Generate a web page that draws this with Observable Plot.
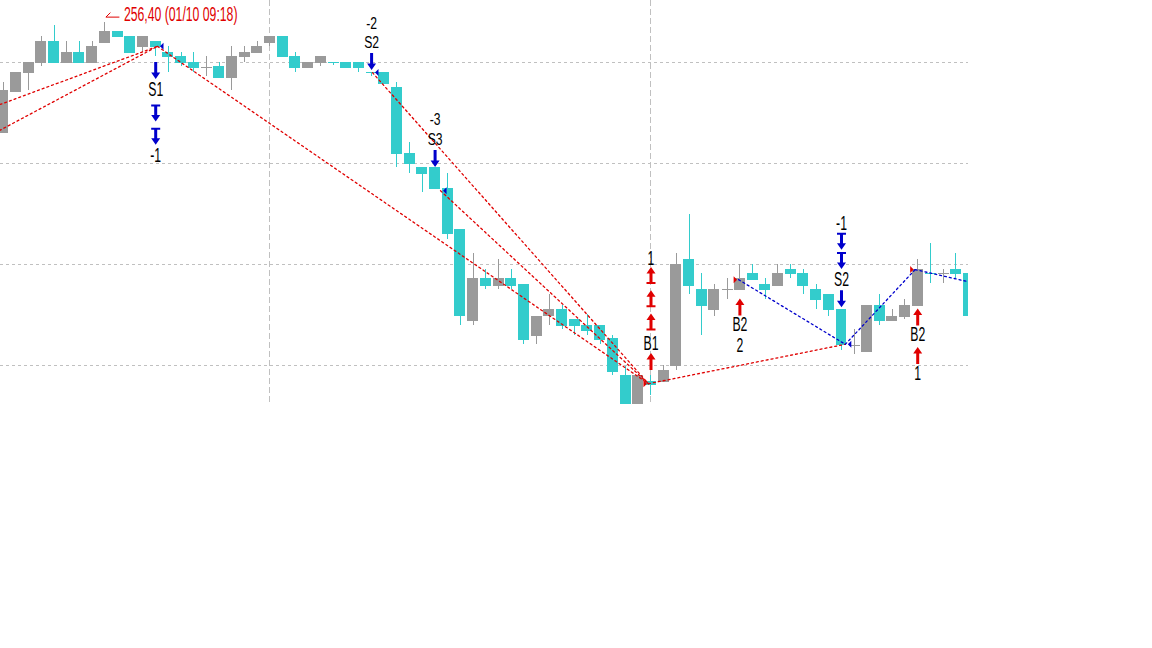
<!DOCTYPE html>
<html><head><meta charset="utf-8">
<script src="https://cdn.jsdelivr.net/npm/d3@7"></script>
<script src="https://cdn.jsdelivr.net/npm/@observablehq/plot@0.6"></script>
<style>html,body{margin:0;padding:0;background:#fff;} #chart svg{display:block;}</style>
</head><body><div id="chart"></div>
<script>
// ---- candle data (index 0..76) ----
const opens = [255.30,255.70,255.89,255.99,256.21,255.99,256.10,255.99,256.19,256.31,256.26,256.15,256.21,256.10,256.06,256.00,255.95,255.96,255.84,256.05,256.09,256.19,256.26,256.06,255.94,255.99,256.00,256.00,256.00,255.90,255.90,255.75,255.10,254.96,254.96,254.75,254.35,253.44,253.86,253.78,253.86,253.80,253.29,253.49,253.55,253.46,253.40,253.40,253.27,252.90,252.58,252.84,252.83,252.99,254.05,253.75,253.54,253.75,253.74,253.91,253.80,253.78,253.95,253.91,253.75,253.70,253.55,253.20,253.13,253.59,253.44,253.48,253.58,253.91,253.91,253.95,253.91];
const highs = [255.80,255.90,256.00,256.26,256.37,256.21,256.21,256.21,256.40,256.31,256.26,256.26,256.21,256.16,256.10,256.10,256.06,256.00,256.16,256.16,256.21,256.26,256.26,256.10,256.00,256.06,256.00,256.00,256.00,255.90,255.90,255.80,255.21,254.96,254.96,254.90,254.35,254.11,253.95,254.05,253.95,253.80,253.49,253.70,253.59,253.46,253.51,253.40,253.30,252.99,252.90,252.90,253.00,254.11,254.50,253.91,253.80,253.86,254.00,254.00,253.86,254.00,254.00,253.95,253.80,253.70,253.55,253.36,253.59,253.70,253.55,253.65,254.05,254.21,253.95,254.11,253.91];
const lows = [255.30,255.70,255.72,255.96,255.99,255.99,255.99,255.99,256.19,256.25,256.09,256.10,256.06,255.90,255.96,255.90,255.86,255.84,255.72,256.00,256.09,256.16,256.05,255.90,255.94,255.96,255.97,255.94,255.90,255.86,255.78,254.96,254.90,254.71,254.74,254.25,253.40,253.40,253.75,253.75,253.75,253.21,253.21,253.40,253.36,253.30,253.30,253.21,252.90,252.56,252.56,252.70,252.83,252.95,253.70,253.30,253.49,253.65,253.74,253.84,253.65,253.78,253.86,253.70,253.55,253.49,253.15,253.11,253.13,253.40,253.44,253.46,253.58,253.81,253.81,253.86,253.48];
const closes = [255.72,255.90,256.00,256.21,255.99,256.10,255.99,256.16,256.31,256.25,256.09,256.26,256.15,256.05,255.99,255.94,255.95,255.84,256.06,256.10,256.16,256.26,256.05,255.94,256.00,256.06,256.00,255.94,255.94,255.90,255.78,255.09,254.99,254.89,254.74,254.30,253.49,253.86,253.78,253.86,253.78,253.25,253.49,253.55,253.39,253.39,253.34,253.25,252.93,252.58,252.90,252.80,252.95,254.00,253.78,253.58,253.75,253.75,253.86,253.84,253.74,253.91,253.90,253.78,253.64,253.54,253.20,253.20,253.59,253.44,253.49,253.59,253.95,253.91,253.91,253.90,253.49];

// grid levels / vertical separators (candle index)
const priceGrid = [253, 254, 255, 256];
const timeGrid = [21, 51];

// peak annotation
const peakIndex = 8;
const peakTime = "01/10 09:18";

// zigzag pivots [index, price]
const pivS1 = [12.14, 256.16], pivS2 = [29.07, 255.90], pivS3 = [34.43, 254.73];
const pivB1 = [50.8, 252.82], pivB2 = [57.9, 253.85], pivS2b = [66.3, 253.21], pivB2b = [71.8, 253.95];
const redSegments = [
  [[-1, 255.55], pivS1],
  [[-1, 255.28], pivS1],
  [pivS1, pivB1],
  [pivS2, pivB1],
  [pivS3, pivB1],
  [pivB1, pivS2b]
];
const blueSegments = [
  [pivB2, pivS2b],
  [pivS2b, pivB2b],
  [pivB2b, [77, 253.80]]
];
const sellPivots = [pivS1, pivS2, pivS3, pivS2b];
const buyPivots = [pivB1, pivB2, pivB2b];

// signal arrows and labels
const sellArrows = [
  {i: 12, p: 255.92, bar: false}, {i: 12, p: 255.50, bar: true}, {i: 12, p: 255.27, bar: true},
  {i: 29, p: 256.01, bar: false},
  {i: 34, p: 255.05, bar: false},
  {i: 66, p: 254.23, bar: true}, {i: 66, p: 254.04, bar: true}, {i: 66, p: 253.66, bar: false}
];
const buyArrows = [
  {i: 51, p: 253.89, bar: true}, {i: 51, p: 253.66, bar: true}, {i: 51, p: 253.43, bar: true}, {i: 51, p: 253.04, bar: false},
  {i: 58, p: 253.58, bar: false},
  {i: 72, p: 253.48, bar: false}, {i: 72, p: 253.10, bar: false}
];
const signalLabels = [
  {i: 12, p: 255.73, t: "S1"}, {i: 12, p: 255.08, t: "-1"},
  {i: 51, p: 254.06, t: "1"}, {i: 51, p: 253.22, t: "B1"},
  {i: 58, p: 253.40, t: "B2"}, {i: 58, p: 253.20, t: "2"},
  {i: 66, p: 254.40, t: "-1"}, {i: 66, p: 253.85, t: "S2"},
  {i: 72, p: 253.30, t: "B2"}, {i: 72, p: 252.92, t: "1"}
];
// tightly stacked labels (count above signal name)
const stackedLabels = [
  {i: 29, p: 256.39, t: "-2"}, {i: 29, p: 256.20, t: "S2"},
  {i: 34, p: 255.44, t: "-3"}, {i: 34, p: 255.24, t: "S3"}
];

// ---- derived table ----
const candles = opens.map((o, i) => {
  const c = closes[i];
  const up = c > o ? true : c < o ? false : (i === 0 || c >= closes[i - 1]);
  return {i, open: o, high: highs[i], low: lows[i], close: c, up, doji: o === c};
});

const GRAY = "#9a9a9a", CYAN = "#33cccc", RED = "#e00000", BLUE = "#0000cc";
const HW = 0.433; // half body width in candle units

// custom symbols
function arrowPath(c, dir, bar) {
  const s = dir; // 1 = down, -1 = up
  c.moveTo(-1.5, -8.5 * s); c.lineTo(1.5, -8.5 * s); c.lineTo(1.5, 2 * s); c.lineTo(4.5, 2 * s);
  c.lineTo(0, 8.5 * s); c.lineTo(-4.5, 2 * s); c.lineTo(-1.5, 2 * s); c.closePath();
  if (bar) {
    c.moveTo(-4.5, -8.5 * s); c.lineTo(4.5, -8.5 * s); c.lineTo(4.5, -6.5 * s); c.lineTo(-4.5, -6.5 * s); c.closePath();
  }
}
const symDown = {draw(c) { arrowPath(c, 1, false); }};
const symDownBar = {draw(c) { arrowPath(c, 1, true); }};
const symUp = {draw(c) { arrowPath(c, -1, false); }};
const symUpBar = {draw(c) { arrowPath(c, -1, true); }};
const symLeftFlag = {draw(c) { c.moveTo(2.5, 0); c.lineTo(6, -3.5); c.lineTo(6, 3.5); c.closePath(); }};
const symRightFlag = {draw(c) { c.moveTo(-1.5, 0); c.lineTo(-5, -3.5); c.lineTo(-5, 3.5); c.closePath(); }};

const segRows = (segs, color) => segs.flatMap((s, k) => s.map(([i, p]) => ({i, p, k: color + k})));

const FONT = "Liberation Sans, Arial, sans-serif";

const chart = Plot.plot({
  width: 1152, height: 648,
  marginLeft: 0, marginTop: 0, marginRight: 184, marginBottom: 244,
  style: {background: "#fff"},
  x: {domain: [-0.22, 76.0], axis: null},
  y: {domain: [252.614, 256.614], axis: null},
  marks: [
    Plot.ruleY(priceGrid, {stroke: "#c0c0c0", strokeDasharray: "3,3", shapeRendering: "crispEdges"}),
    Plot.ruleX(timeGrid, {stroke: "#c0c0c0", strokeDasharray: "6,3", shapeRendering: "crispEdges"}),
    // wicks
    Plot.ruleX(candles, {filter: d => d.up, x: "i", y1: "low", y2: "high", stroke: GRAY, shapeRendering: "crispEdges", clip: true}),
    Plot.ruleX(candles, {filter: d => !d.up, x: "i", y1: "low", y2: "high", stroke: CYAN, shapeRendering: "crispEdges", clip: true}),
    // bodies
    Plot.rect(candles, {filter: d => d.up && !d.doji, x1: d => d.i - HW, x2: d => d.i + HW, y1: "open", y2: "close", fill: GRAY, shapeRendering: "crispEdges", clip: true}),
    Plot.rect(candles, {filter: d => !d.up && !d.doji, x1: d => d.i - HW, x2: d => d.i + HW, y1: "open", y2: "close", fill: CYAN, shapeRendering: "crispEdges", clip: true}),
    Plot.link(candles, {filter: d => d.doji, x1: d => d.i - HW, x2: d => d.i + HW, y1: "open", y2: "open", stroke: d => d.up ? GRAY : CYAN, shapeRendering: "crispEdges", clip: true}),
    // zigzag lines
    Plot.line(segRows(redSegments, "r"), {x: "i", y: "p", z: "k", stroke: RED, strokeWidth: 1.3, strokeDasharray: "2,3", clip: true}),
    Plot.line(segRows(blueSegments, "b"), {x: "i", y: "p", z: "k", stroke: BLUE, strokeWidth: 1.3, strokeDasharray: "2,3", clip: true}),
    Plot.dot(sellPivots, {x: d => d[0], y: d => d[1], symbol: symLeftFlag, fill: BLUE, stroke: "none"}),
    Plot.dot(buyPivots, {x: d => d[0], y: d => d[1], symbol: symRightFlag, fill: RED, stroke: "none"}),
    // arrows
    Plot.dot(sellArrows, {filter: d => !d.bar, x: "i", y: "p", symbol: symDown, fill: BLUE, stroke: "none"}),
    Plot.dot(sellArrows, {filter: d => d.bar, x: "i", y: "p", symbol: symDownBar, fill: BLUE, stroke: "none"}),
    Plot.dot(buyArrows, {filter: d => !d.bar, x: "i", y: "p", symbol: symUp, fill: RED, stroke: "none"}),
    Plot.dot(buyArrows, {filter: d => d.bar, x: "i", y: "p", symbol: symUpBar, fill: RED, stroke: "none"}),
    // labels
    Plot.text(signalLabels, {x: "i", y: "p", text: "t", fill: "#000", fontFamily: FONT, fontSize: 18}),
    Plot.text(stackedLabels, {x: "i", y: "p", text: "t", fill: "#000", fontFamily: FONT, fontSize: 16}),
    Plot.text([candles[peakIndex]], {x: "i", y: "high", text: d => `${d.high.toFixed(2).replace(".", ",")} (${peakTime})`, textAnchor: "start", dx: 19, dy: -7.5, fill: RED, fontFamily: FONT, fontSize: 18}),
    (index, scales) => {
      const x0 = scales.x(peakIndex), y0 = scales.y(highs[peakIndex]);
      const p = document.createElementNS("http://www.w3.org/2000/svg", "path");
      p.setAttribute("d", `M${x0 + 6},${y0 - 9}L${x0 + 1.5},${y0 - 4.5}L${x0 + 15},${y0 - 4.5}`);
      p.setAttribute("fill", "none");
      p.setAttribute("stroke", RED);
      p.setAttribute("stroke-width", "1");
      return p;
    }
  ]
});

// narrow + stretch the label glyphs like the reference's condensed font
d3.select(chart).selectAll('g[aria-label="text"] text').each(function () {
  const t = this.getAttribute("transform");
  const fs = this.parentNode.getAttribute("font-size");
  const s = fs === "16" ? " scale(0.76,1.08)" : " scale(0.68,1.08)";
  if (t) this.setAttribute("transform", t + s);
});
document.getElementById("chart").appendChild(chart);
</script>
</body></html>
